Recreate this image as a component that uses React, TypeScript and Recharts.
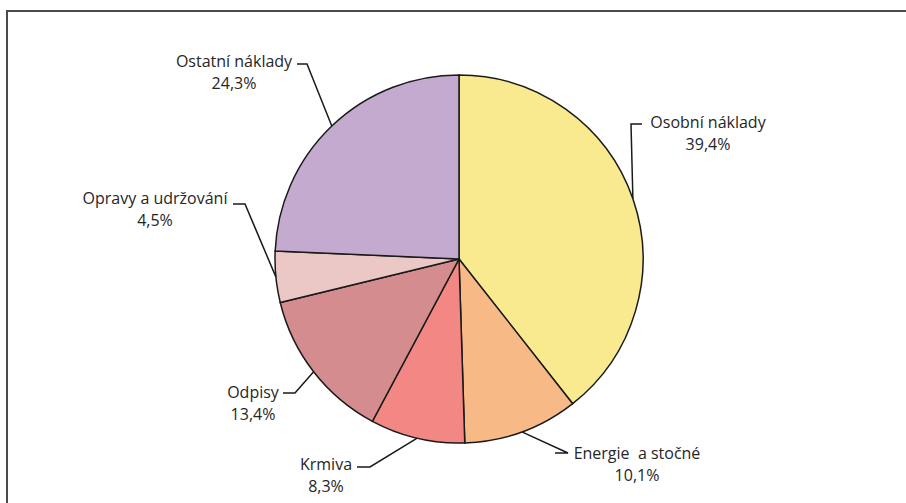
import { PieChart, Pie, Cell } from 'recharts';

const categories = [
  'Osobní náklady',
  'Energie  a stočné',
  'Krmiva',
  'Odpisy',
  'Opravy a udržování',
  'Ostatní náklady',
];
const shares = [39.4, 10.1, 8.3, 13.4, 4.5, 24.3];
const colors = ['#F9EA8F', '#F7BA87', '#F28783', '#D48C8F', '#EBC8C6', '#C5AAD0'];

// label layout: elbow point, end of horizontal tick, text centre and first baseline
const labelLayout = [
  { ex: 631, ey: 124, hx: 642, tx: 708, ty: 128 },
  { ex: 568, ey: 453, hx: 555, tx: 637, ty: 459 },
  { ex: 370, ey: 467, hx: 357, tx: 326, ty: 470 },
  { ex: 295, ey: 393, hx: 283, tx: 253, ty: 398 },
  { ex: 245, ey: 204, hx: 233, tx: 155, ty: 204 },
  { ex: 307, ey: 64, hx: 297, tx: 234, ty: 67 },
];

const data = categories.map((name, i) => ({ name, value: shares[i] }));

const RADIAN = Math.PI / 180;

const renderLabel = (props: any) => {
  const { cx, cy, outerRadius, midAngle, index, value } = props;
  const sx = cx + outerRadius * Math.cos(-midAngle * RADIAN);
  const sy = cy + outerRadius * Math.sin(-midAngle * RADIAN);
  const l = labelLayout[index];
  const pct = value.toFixed(1).replace('.', ',') + '%';
  return (
    <g key={`lbl-${index}`}>
      <polyline
        points={`${sx},${sy} ${l.ex},${l.ey} ${l.hx},${l.ey}`}
        fill="none"
        stroke="#1a1a1a"
        strokeWidth={1.5}
      />
      <text
        x={l.tx}
        y={l.ty}
        textAnchor="middle"
        fill="#262626"
        fontSize={16}
        fontFamily="Open Sans"
        style={{ whiteSpace: 'pre' }}
      >
        {categories[index]}
      </text>
      <text x={l.tx} y={l.ty + 22} textAnchor="middle" fill="#262626" fontSize={16} fontFamily="Open Sans">
        {pct}
      </text>
    </g>
  );
};

export default function App() {
  return (
    <div style={{ position: 'absolute', left: 0, top: 0, width: 906, height: 503, overflow: 'hidden', background: '#fff' }}>
      <div
        style={{
          position: 'absolute',
          left: 6,
          top: 10,
          width: 1000,
          height: 600,
          border: '2px solid #4a4a4a',
        }}
      />
      <div style={{ position: 'absolute', left: 0, top: 0 }}>
        <PieChart width={906} height={503} margin={{ top: 0, right: 0, bottom: 0, left: 0 }}>
          <Pie
            data={data}
            dataKey="value"
            nameKey="name"
            cx={459}
            cy={259}
            outerRadius={184}
            startAngle={90}
            endAngle={-270}
            stroke="#1a1a1a"
            strokeWidth={1.5}
            label={renderLabel}
            labelLine={false}
            isAnimationActive={false}
          >
            {data.map((d, i) => (
              <Cell key={d.name} fill={colors[i]} />
            ))}
          </Pie>
        </PieChart>
      </div>
    </div>
  );
}
